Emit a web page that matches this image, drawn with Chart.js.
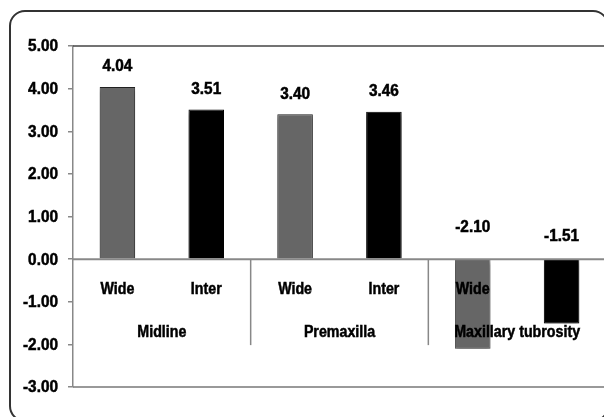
<!DOCTYPE html>
<html>
<head>
<meta charset="utf-8">
<script src="https://cdn.jsdelivr.net/npm/chart.js@4.4.1/dist/chart.umd.min.js"></script>
<style>
  html, body { margin: 0; padding: 0; background: #fff; overflow: hidden; width: 604px; height: 417px; }
  #frame { position: absolute; left: 9px; top: 10px; width: 600px; height: 412px;
           border: 2px solid #333; border-radius: 16px; box-sizing: border-box; }
  #c { position: absolute; left: 0; top: 0; }
</style>
</head>
<body>
<div id="frame"></div>
<canvas id="c" width="620" height="430"></canvas>
<script>
// Sub-categories (one bar each) and the region each pair belongs to
const categories = ["Wide", "Inter", "Wide", "Inter", "Wide", "Inter"];
const groups = ["Midline", "Premaxilla", "Maxillary tubrosity"];
const values = [4.04, 3.51, 3.40, 3.46, -2.10, -1.51];
const yTicks = [-3, -2, -1, 0, 1, 2, 3, 4, 5];

const FONT = "bold 16px 'Liberation Sans', Arial, sans-serif";
const NUM_SQUEEZE = 0.96;   // horizontal squeeze for numbers
const WORD_SQUEEZE = 0.89;  // horizontal squeeze for words
const barFill = categories.map(c => c === "Wide" ? "#666666" : "#000000");
const barEdge = values.map((v, i) => categories[i] === "Wide" && v > 0 ? "#222222" : barFill[i]);

function squeezedText(ctx, text, x, y, align, sx) {
  ctx.save();
  ctx.translate(x, y);
  ctx.scale(sx, 1);
  ctx.textAlign = align;
  ctx.lineWidth = 0.5;
  ctx.strokeStyle = "#000";
  ctx.fillText(text, 0, 0);
  ctx.strokeText(text, 0, 0);
  ctx.restore();
}

// Lines, two-level category labels, axis numbers and value labels
const overlay = {
  id: "overlay",
  beforeDatasetsDraw(chart) {
    const ctx = chart.ctx;
    ctx.save();
    ctx.shadowColor = "rgba(0,0,0,0.35)";
    ctx.shadowBlur = 4;
    ctx.shadowOffsetY = 3;
  },
  afterDatasetsDraw(chart) {
    const ctx = chart.ctx;
    ctx.restore();
    const { left, right, top, bottom } = chart.chartArea;
    const x = chart.scales.x, y = chart.scales.y;
    const y0 = y.getPixelForValue(0);
    const half = (x.getPixelForValue(1) - x.getPixelForValue(0)) / 2;

    ctx.save();
    ctx.lineWidth = 1.5;
    ctx.strokeStyle = "#444";
    ctx.beginPath(); ctx.moveTo(left, top); ctx.lineTo(right, top); ctx.stroke();
    ctx.strokeStyle = "#777";
    ctx.beginPath(); ctx.moveTo(left, bottom); ctx.lineTo(right, bottom); ctx.stroke();
    ctx.strokeStyle = "#888";
    ctx.lineWidth = 2;
    ctx.beginPath(); ctx.moveTo(left, y0); ctx.lineTo(right, y0); ctx.stroke();

    // group separators
    ctx.lineWidth = 1.5;
    const perGroup = categories.length / groups.length;
    for (let g = 1; g <= groups.length; g++) {
      const sx = x.getPixelForValue(g * perGroup - 1) + half;
      ctx.beginPath(); ctx.moveTo(sx, y0); ctx.lineTo(sx, y0 + 86); ctx.stroke();
    }

    ctx.fillStyle = "#000";
    ctx.font = FONT;
    ctx.textBaseline = "middle";

    // y axis numbers
    yTicks.forEach(t => squeezedText(ctx, t.toFixed(2), left - 15, y.getPixelForValue(t) + 1, "right", NUM_SQUEEZE));

    categories.forEach((c, i) => squeezedText(ctx, c, x.getPixelForValue(i), y0 + 30, "center", WORD_SQUEEZE));
    groups.forEach((g, k) => {
      const cx = (x.getPixelForValue(k * perGroup) + x.getPixelForValue(k * perGroup + perGroup - 1)) / 2;
      squeezedText(ctx, g, cx, y0 + 73, "center", WORD_SQUEEZE);
    });

    // value labels
    values.forEach((v, i) => {
      const px = x.getPixelForValue(i);
      const py = v >= 0 ? y.getPixelForValue(v) - 21 : y.getPixelForValue(Math.abs(v) * 0.36);
      squeezedText(ctx, v.toFixed(2), px, py + 1, "center", NUM_SQUEEZE);
    });
    ctx.restore();
  }
};

new Chart(document.getElementById("c"), {
  type: "bar",
  data: {
    labels: categories,
    datasets: [{
      data: values,
      backgroundColor: barFill,
      borderColor: barEdge,
      borderWidth: 1,
      barPercentage: 0.4,
      categoryPercentage: 1.0
    }]
  },
  options: {
    responsive: false,
    animation: false,
    devicePixelRatio: 1,
    layout: { padding: { left: 0, top: 46, right: 14, bottom: 43 } },
    plugins: { legend: { display: false }, tooltip: { enabled: false } },
    scales: {
      x: { display: false },
      y: {
        min: -3, max: 5,
        afterFit(scale) { scale.width = 73; },
        afterBuildTicks(scale) { scale.ticks = yTicks.map(v => ({ value: v })); },
        ticks: { display: false },
        grid: { drawOnChartArea: false, drawTicks: true, tickLength: 5, color: "#888", lineWidth: 1.5 },
        border: { display: true, color: "#888", width: 1.5 }
      }
    }
  },
  plugins: [overlay]
});
</script>
</body>
</html>
